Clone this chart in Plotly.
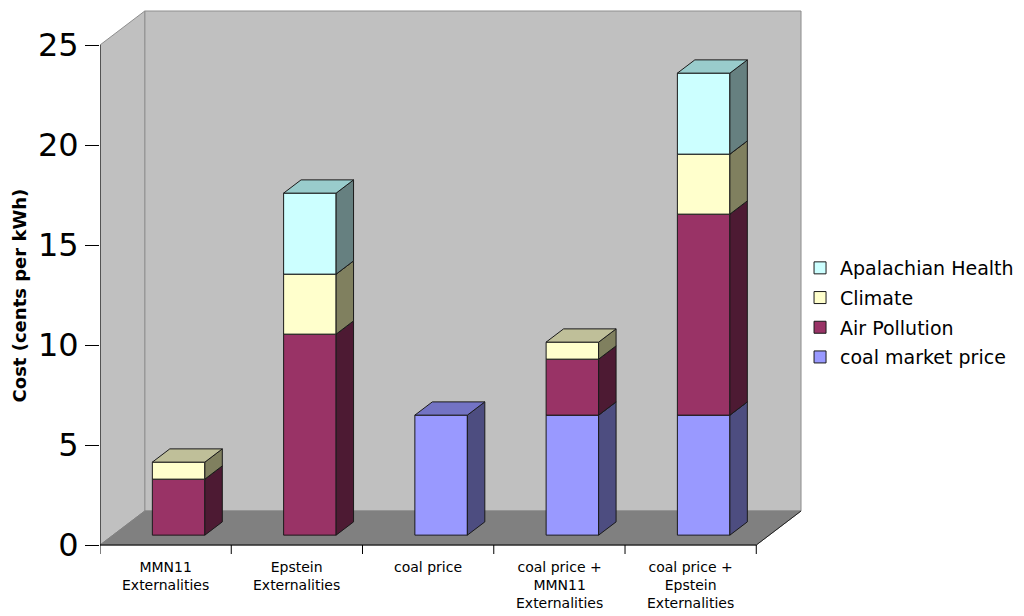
import plotly.graph_objects as go

# ---- data (cents per kWh) ----
categories = [
    "MMN11<br>Externalities",
    "Epstein<br>Externalities",
    "coal price",
    "coal price +<br>MMN11<br>Externalities",
    "coal price +<br>Epstein<br>Externalities",
]
coal_market_price = [0.0, 0.0, 6.0, 6.0, 6.0]
air_pollution = [2.8, 10.05, 0.0, 2.8, 10.05]
climate = [0.85, 3.0, 0.0, 0.85, 3.0]
apalachian_health = [0.0, 4.05, 0.0, 0.0, 4.05]
y_ticks = [0, 5, 10, 15, 20, 25]
y_max = 25

# ---- styling: (name, values, front, top, side) stacked bottom -> top ----
series = [
    ("coal market price", coal_market_price, "#9999FF", "#7373C4", "#4D4D80"),
    ("Air Pollution", air_pollution, "#993366", "#73264D", "#4D1A33"),
    ("Climate", climate, "#FFFFCC", "#BFBF99", "#80805F"),
    ("Apalachian Health", apalachian_health, "#CCFFFF", "#99CCCC", "#668080"),
]

# oblique projection: pixel sizes of one category / one unit and the box depth
PX_CAT, PX_UNIT = 132.0, 20.0
DX, DY = 45.0 / PX_CAT, 34.0 / PX_UNIT      # full depth of the chart box
F_FRONT, F_BACK = 0.29, 0.68                # bar depth span inside the box
BAR_W = 0.40                                # bar width in category units

L, R, T, B = 100, 214, 5, 51
W, H = 1024, 616
x_lo = -0.5
x_hi = x_lo + (W - L - R) / PX_CAT
y_lo = -(H - B - 545) / PX_UNIT
y_hi = y_lo + (H - T - B) / PX_UNIT

fig = go.Figure()


def poly(xs, ys, fill, line="#1a1a1a", width=1):
    fig.add_trace(go.Scatter(
        x=list(xs) + [xs[0]], y=list(ys) + [ys[0]],
        mode="lines", fill="toself", fillcolor=fill,
        line=dict(color=line, width=width),
        hoverinfo="skip", showlegend=False,
    ))


def seg(xs, ys, color, width=1):
    fig.add_trace(go.Scatter(
        x=xs, y=ys, mode="lines", line=dict(color=color, width=width),
        hoverinfo="skip", showlegend=False,
    ))


n = len(categories)
x0, x1 = -0.5, n - 0.5

# back wall, left wall, floor
poly([x0 + DX, x1 + DX, x1 + DX, x0 + DX], [DY, DY, y_max + DY, y_max + DY],
     "#C0C0C0", line="#8E8E8E")
poly([x0, x0 + DX, x0 + DX, x0], [0, DY, y_max + DY, y_max],
     "#C0C0C0", line="#8E8E8E")
poly([x0, x1, x1 + DX, x0 + DX], [0, 0, DY, DY], "#808080", line="#808080")
seg([x1, x1 + DX], [0, DY], "#222222")

# stacked 3-D bars
for i in range(n):
    base = 0.0
    for name, vals, c_front, c_top, c_side in series:
        v = vals[i]
        if v <= 0:
            continue
        top = base + v
        xl = i - BAR_W / 2
        xr = i + BAR_W / 2
        fx, fy = F_FRONT * DX, F_FRONT * DY
        bx, by = F_BACK * DX, F_BACK * DY
        # front face
        poly([xl + fx, xr + fx, xr + fx, xl + fx],
             [base + fy, base + fy, top + fy, top + fy], c_front)
        # right side face
        poly([xr + fx, xr + bx, xr + bx, xr + fx],
             [base + fy, base + by, top + by, top + fy], c_side)
        # top face
        poly([xl + fx, xr + fx, xr + bx, xl + bx],
             [top + fy, top + fy, top + by, top + by], c_top)
        base = top

# front axis lines and category ticks
seg([x0, x1], [0, 0], "#000000")
seg([x0, x0], [0, y_max], "#000000")
tx, ty = [], []
for k in range(n + 1):
    tx += [x0 + k, x0 + k, None]
    ty += [0, -9 / PX_UNIT, None]
seg(tx, ty, "#000000")

# legend entries (top to bottom)
for gi, (name, vals, c_front, c_top, c_side) in enumerate(reversed(series)):
    fig.add_trace(go.Scatter(
        x=[None], y=[None], mode="markers", name=name, legendgroup=f"g{gi}",
        marker=dict(symbol="square", size=12, color=c_front,
                    line=dict(color="#1a1a1a", width=1)),
    ))

# category labels
for i, lab in enumerate(categories):
    fig.add_annotation(
        x=i, y=-12 / PX_UNIT, xref="x", yref="y", text=lab, showarrow=False,
        yanchor="top", xanchor="center", align="center",
        font=dict(family="DejaVu Sans", size=14, color="#000000"),
    )

# value axis title
fig.add_annotation(
    x=(20 - L) / (W - L - R), y=(H - B - 295) / (H - T - B),
    xref="paper", yref="paper", text="<b>Cost (cents per kWh)</b>",
    textangle=-90, showarrow=False, xanchor="center", yanchor="middle",
    font=dict(family="DejaVu Sans", size=18, color="#000000"),
)

fig.update_layout(
    width=W, height=H,
    margin=dict(l=L, r=R, t=T, b=B),
    paper_bgcolor="#FFFFFF", plot_bgcolor="rgba(0,0,0,0)",
    xaxis=dict(range=[x_lo, x_hi], visible=False, fixedrange=True),
    yaxis=dict(
        range=[y_lo, y_hi], tickvals=y_ticks, ticktext=[str(t) for t in y_ticks],
        showgrid=False, zeroline=False, showline=False,
        ticks="outside", ticklen=14, tickwidth=1, tickcolor="#000000",
        tickfont=dict(family="DejaVu Sans", size=32, color="#000000"),
        fixedrange=True,
    ),
    legend=dict(
        x=(804 - L) / (W - L - R), xanchor="left",
        y=(H - B - 312.5) / (H - T - B), yanchor="middle",
        font=dict(family="DejaVu Sans", size=19, color="#000000"),
        tracegroupgap=2, itemwidth=30, bgcolor="rgba(0,0,0,0)",
    ),
    showlegend=True,
)

fig.write_html("out.html")
